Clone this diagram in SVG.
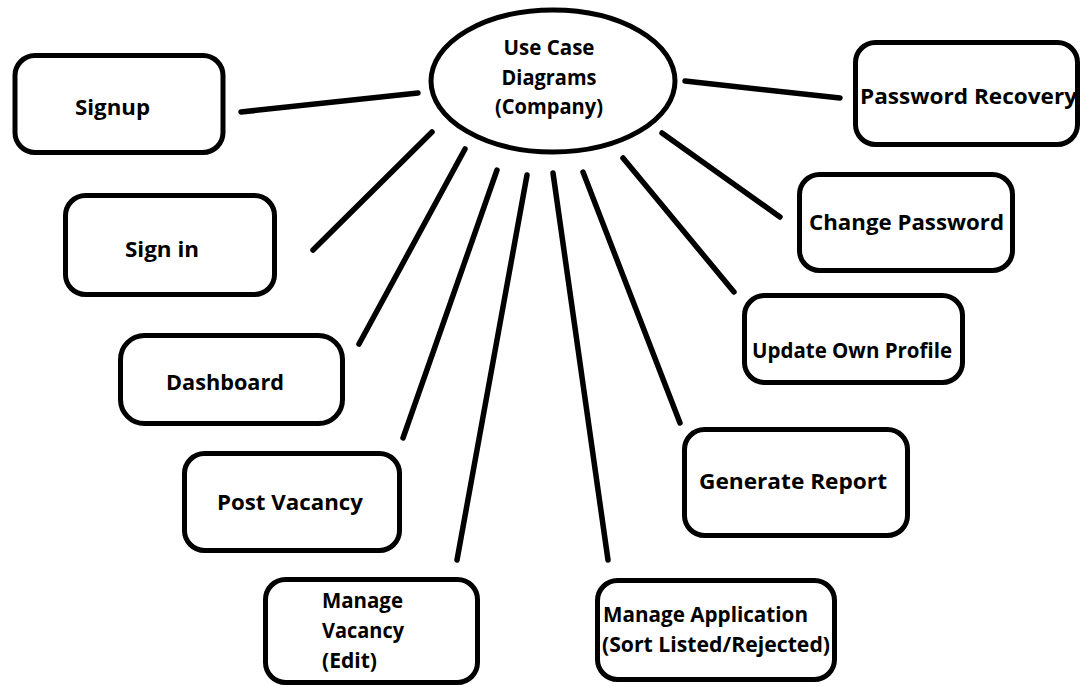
<svg xmlns="http://www.w3.org/2000/svg" width="1081" height="687" viewBox="0 0 1081 687">
<style>
.box{fill:#fff;stroke:#000;stroke-width:5}
.el{fill:#fff;stroke:#000;stroke-width:5}
.ln{stroke:#000;stroke-width:5.5;stroke-linecap:round;fill:none}
text{font-family:"Open Sans","Liberation Sans",sans-serif;font-weight:bold;font-size:22px;fill:#000}
.c{text-anchor:middle}
</style>
<rect width="1081" height="687" fill="#fff"/>
<g id="connectors">
<line class="ln" x1="241" y1="112" x2="418" y2="93"/>
<line class="ln" x1="313" y1="250" x2="432" y2="132"/>
<line class="ln" x1="465" y1="149" x2="359" y2="344"/>
<line class="ln" x1="497" y1="170" x2="403" y2="438"/>
<line class="ln" x1="527" y1="175" x2="457" y2="560"/>
<line class="ln" x1="553" y1="173" x2="608" y2="560"/>
<line class="ln" x1="583" y1="172" x2="680" y2="423"/>
<line class="ln" x1="623" y1="158" x2="734" y2="292"/>
<line class="ln" x1="662" y1="133" x2="780" y2="217"/>
<line class="ln" x1="685" y1="81" x2="840" y2="98"/>
</g>
<g id="use-case-diagrams">
<ellipse class="el" cx="553" cy="81" rx="122" ry="71"/>
<text class="c" x="549" y="55" textLength="91" lengthAdjust="spacingAndGlyphs">Use Case</text>
<text class="c" x="549" y="85" textLength="95" lengthAdjust="spacingAndGlyphs">Diagrams</text>
<text class="c" x="549" y="114" textLength="108" lengthAdjust="spacingAndGlyphs">(Company)</text>
</g>
<g id="signup">
<rect class="box" x="15" y="55.5" width="208" height="97" rx="20"/>
<text x="75" y="115" textLength="75" lengthAdjust="spacingAndGlyphs">Signup</text>
</g>
<g id="sign-in">
<rect class="box" x="65.5" y="195.5" width="209" height="99" rx="20"/>
<text x="125" y="257" textLength="74" lengthAdjust="spacingAndGlyphs">Sign in</text>
</g>
<g id="dashboard">
<rect class="box" x="120.5" y="335.5" width="222" height="88" rx="24"/>
<text x="166" y="390" textLength="118" lengthAdjust="spacingAndGlyphs">Dashboard</text>
</g>
<g id="post-vacancy">
<rect class="box" x="184.5" y="453.5" width="215" height="97" rx="20"/>
<text x="217" y="510" textLength="146" lengthAdjust="spacingAndGlyphs">Post Vacancy</text>
</g>
<g id="manage-vacancy">
<rect class="box" x="265.5" y="579.5" width="212" height="103" rx="20"/>
<text x="322" y="608" textLength="81" lengthAdjust="spacingAndGlyphs">Manage</text>
<text x="322" y="638" textLength="82" lengthAdjust="spacingAndGlyphs">Vacancy</text>
<text x="322" y="668" textLength="55" lengthAdjust="spacingAndGlyphs">(Edit)</text>
</g>
<g id="manage-application">
<rect class="box" x="597.5" y="580.5" width="237" height="99" rx="20"/>
<text x="603" y="622" textLength="205" lengthAdjust="spacingAndGlyphs">Manage Application</text>
<text x="602" y="652" textLength="228" lengthAdjust="spacingAndGlyphs">(Sort Listed/Rejected)</text>
</g>
<g id="generate-report">
<rect class="box" x="684.5" y="429.5" width="223" height="106" rx="20"/>
<text x="699" y="489" textLength="188" lengthAdjust="spacingAndGlyphs">Generate Report</text>
</g>
<g id="update-own-profile">
<rect class="box" x="744.5" y="295.5" width="218" height="87" rx="20"/>
<text x="752" y="358" textLength="200" lengthAdjust="spacingAndGlyphs">Update Own Profile</text>
</g>
<g id="change-password">
<rect class="box" x="799.5" y="174.5" width="213" height="96" rx="20"/>
<text x="809" y="230" textLength="195" lengthAdjust="spacingAndGlyphs">Change Password</text>
</g>
<g id="password-recovery">
<rect class="box" x="855.5" y="42.5" width="222" height="102" rx="20"/>
<text x="860" y="104" textLength="217" lengthAdjust="spacingAndGlyphs">Password Recovery</text>
</g>
</svg>
